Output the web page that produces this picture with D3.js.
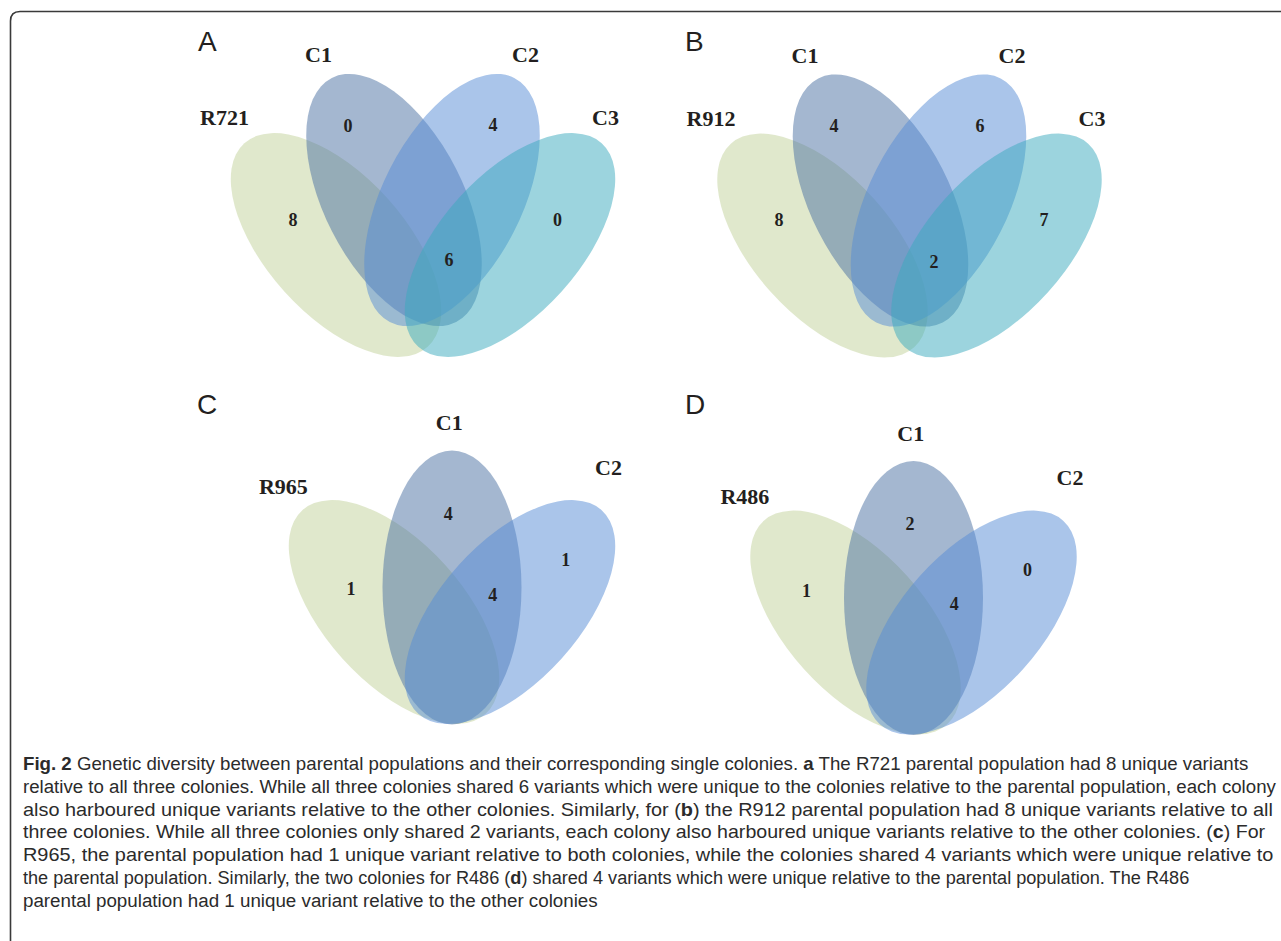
<!DOCTYPE html>
<html>
<head>
  <meta charset="utf-8">
  <title>Fig. 2 venn</title>
  <style>
    body { margin: 0; background: #fff; }
    svg text { fill: #231f20; }
  </style>
</head>
<body>
  <div id="chart"></div>
  <script src="https://cdn.jsdelivr.net/npm/d3@7/dist/d3.min.js"></script>
  <script type="text/javascript">
    var w = 1281;
    var h = 941;

    // ---- data ----
    var panels = ["A", "B", "C", "D"];
    var setNames = [
      ["R721", "C1", "C2", "C3"],
      ["R912", "C1", "C2", "C3"],
      ["R965", "C1", "C2"],
      ["R486", "C1", "C2"]
    ];
    // region order (4 sets): R only, C1 only, C2 only, C3 only, C1&C2&C3
    var countsA = [8, 0, 4, 0, 6];
    var countsB = [8, 4, 6, 7, 2];
    // region order (3 sets): R only, C1 only, C2 only, C1&C2
    var countsC = [1, 4, 1, 4];
    var countsD = [1, 2, 0, 4];
    var counts = [countsA, countsB, countsC, countsD];

    var setColors = ["#c1d299", "#4a6fa1", "#558bd5", "#3aa9bd"];

    var captionLines = [
      [["Fig. 2", 1], [" Genetic diversity between parental populations and their corresponding single colonies. ", 0], ["a", 1], [" The R721 parental population had 8 unique variants", 0]],
      [["relative to all three colonies. While all three colonies shared 6 variants which were unique to the colonies relative to the parental population, each colony", 0]],
      [["also harboured unique variants relative to the other colonies. Similarly, for (", 0], ["b", 1], [") the R912 parental population had 8 unique variants relative to all", 0]],
      [["three colonies. While all three colonies only shared 2 variants, each colony also harboured unique variants relative to the other colonies. (", 0], ["c", 1], [") For", 0]],
      [["R965, the parental population had 1 unique variant relative to both colonies, while the colonies shared 4 variants which were unique relative to", 0]],
      [["the parental population. Similarly, the two colonies for R486 (", 0], ["d", 1], [") shared 4 variants which were unique relative to the parental population. The R486", 0]],
      [["parental population had 1 unique variant relative to the other colonies", 0]]
    ];
    var captionEnds = [1249, 1276, 1273, 1266, 1274, 1190, 598];

    // ---- layout (template units = px, relative to each panel origin) ----
    var ellA = 137, ellB = 69.5;
    var shapes4 = [{x: -87, y: 45, rot: 48}, {x: -29, y: 0, rot: 63}, {x: 29, y: 0, rot: -63}, {x: 87, y: 45, rot: -48}];
    var shapes3 = [{x: -58, y: 24.5, rot: 48}, {x: 0, y: 0, rot: 90}, {x: 58, y: 24.5, rot: -48}];
    var nameSpots4 = [[-198.5, -75], [-104.5, -138], [102.5, -138], [182.5, -75]];
    var nameSpots3 = [[-168.6, -94], [-2.8, -157.4], [156.5, -113]];
    var countSpots = [
      [[-130, 20], [-75, -74.5], [70, -75], [134.5, 20], [26, 59.5]],
      [[-130.5, 19.5], [-75.5, -74.5], [70.5, -75], [134.5, 19.5], [24.5, 61]],
      [[-101, 1.5], [-3.7, -74], [113.7, -27.5], [40.7, 7.5]],
      [[-107, -7], [-3.5, -74], [114, -28], [40.8, 6]]
    ];
    var origins = [[423, 200], [909.5, 200.5], [452, 587.5], [913.5, 598]];
    var letterPos = [[198, 51], [685, 51], [197, 413.5], [685, 413.5]];

    var svg = d3.select("#chart")
      .append("svg")
      .attr("width", w)
      .attr("height", h);

    // frame, open to the right and bottom
    svg.append("path")
      .attr("d", "M10.5," + h + " V21 Q10.5,11.5 20,11.5 H" + w)
      .attr("fill", "none")
      .attr("stroke", "#3a3a3a")
      .attr("stroke-width", 1.6);

    panels.forEach(function(p, i) {
      var shapes = setNames[i].length == 4 ? shapes4 : shapes3;
      var nameSpots = setNames[i].length == 4 ? nameSpots4 : nameSpots3;
      var x = d3.scaleLinear().domain([0, 1]).range([origins[i][0], origins[i][0] + 1]);
      var y = d3.scaleLinear().domain([0, 1]).range([origins[i][1], origins[i][1] + 1]);
      var g = svg.append("g");

      g.selectAll("ellipse")
        .data(shapes)
        .enter()
        .append("ellipse")
        .attr("cx", function(d) { return x(d.x); })
        .attr("cy", function(d) { return y(d.y); })
        .attr("rx", ellA)
        .attr("ry", ellB)
        .attr("transform", function(d) {
          return "rotate(" + d.rot + "," + x(d.x) + "," + y(d.y) + ")";
        })
        .attr("fill", function(d, j) { return setColors[j]; })
        .attr("fill-opacity", 0.5);

      g.selectAll("text.name")
        .data(setNames[i])
        .enter()
        .append("text")
        .attr("class", "name")
        .attr("x", function(d, j) { return x(nameSpots[j][0]); })
        .attr("y", function(d, j) { return y(nameSpots[j][1]); })
        .attr("text-anchor", "middle")
        .style("font-family", "'Liberation Serif', 'Times New Roman', serif")
        .style("font-weight", "bold")
        .style("font-size", "22px")
        .text(function(d) { return d; });

      g.selectAll("text.count")
        .data(counts[i])
        .enter()
        .append("text")
        .attr("class", "count")
        .attr("x", function(d, j) { return x(countSpots[i][j][0]); })
        .attr("y", function(d, j) { return y(countSpots[i][j][1]); })
        .attr("dy", "0.34em")
        .attr("text-anchor", "middle")
        .style("font-family", "'Liberation Serif', 'Times New Roman', serif")
        .style("font-weight", "bold")
        .style("font-size", "18px")
        .text(function(d) { return d; });

      svg.append("text")
        .attr("x", letterPos[i][0])
        .attr("y", letterPos[i][1])
        .style("font-family", "'Liberation Sans', Arial, sans-serif")
        .style("font-size", "28px")
        .text(p);
    });

    // caption
    var capX = 23, capY = 770, capStep = 22.8;
    captionLines.forEach(function(line, i) {
      var t = svg.append("text")
        .attr("x", 0)
        .attr("y", 0)
        .style("font-family", "'Liberation Sans', Arial, sans-serif")
        .style("font-size", "19px")
        .style("fill", "#2b2b2b");
      line.forEach(function(seg) {
        t.append("tspan")
          .style("font-weight", seg[1] ? "bold" : "normal")
          .text(seg[0]);
      });
      var len = t.node().getComputedTextLength();
      var sx = (captionEnds[i] - capX) / len;
      t.attr("transform", "translate(" + capX + "," + (capY + i * capStep) + ") scale(" + sx + ",1)");
    });
  </script>
</body>
</html>
